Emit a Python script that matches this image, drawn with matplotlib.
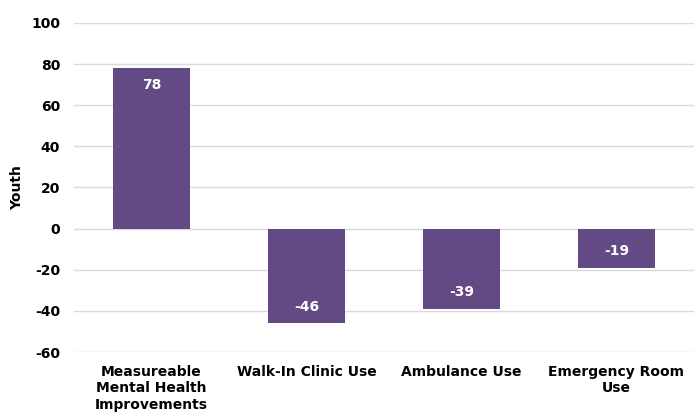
import matplotlib.pyplot as plt
import numpy as np

# Chart data
categories = ['Measureable\nMental Health\nImprovements', 'Walk-In Clinic Use',
              'Ambulance Use', 'Emergency Room\nUse']
values = [78, -46, -39, -19]
y_ticks = [-60, -40, -20, 0, 20, 40, 60, 80, 100]

bar_color = '#634A84'
grid_color = '#D9D9D9'

fig = plt.figure(figsize=(6.94, 4.15), dpi=100)
ax = fig.add_axes([0.1066, 0.1518, 0.8934, 0.7928])

x = np.arange(len(categories))
bars = ax.bar(x, values, width=0.5, color=bar_color, zorder=3)

# Value labels inside the bar ends
for rect, v in zip(bars, values):
    ax.annotate(str(v), xy=(rect.get_x() + rect.get_width() / 2, v),
                xytext=(0, -12 if v > 0 else 12), textcoords='offset points',
                ha='center', va='center', color='white', fontsize=10,
                fontweight='bold', zorder=4)

ax.set_xlim(-0.5, len(categories) - 0.5)
ax.set_ylim(-60, 100)
ax.set_yticks(y_ticks)
ax.set_yticklabels([str(t) for t in y_ticks], fontsize=10, fontweight='bold')
ax.set_xticks(x)
ax.set_xticklabels(categories, fontsize=10, fontweight='bold', va='top',
                   linespacing=1.25)
ax.tick_params(axis='both', length=0)
ax.tick_params(axis='x', pad=9)
ax.tick_params(axis='y', pad=10)
ax.yaxis.grid(True, color=grid_color, linewidth=1, zorder=0)
for s in ax.spines.values():
    s.set_visible(False)

ax.set_ylabel('Youth', fontsize=10, fontweight='bold', labelpad=5)

fig.savefig('out.png', dpi=100)
